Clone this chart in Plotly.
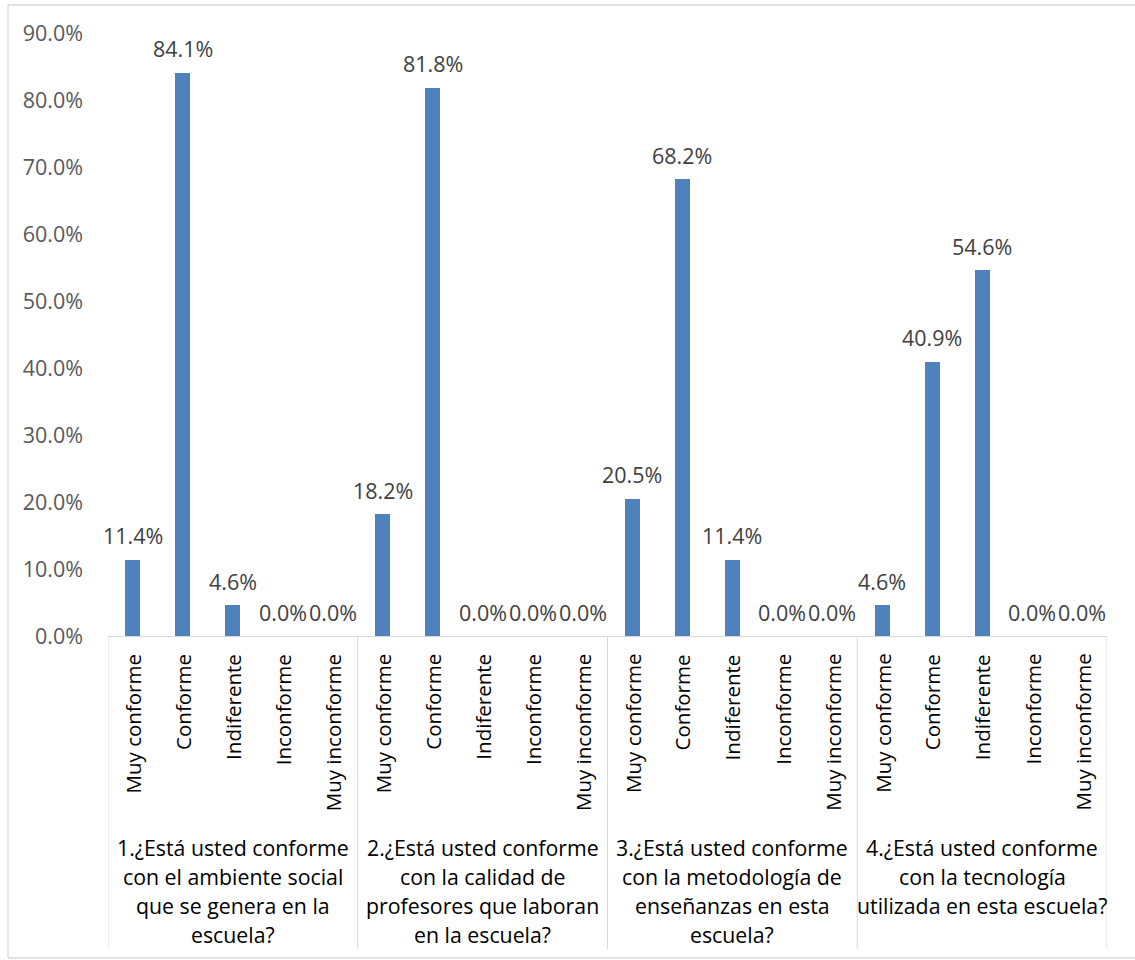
import plotly.graph_objects as go

# ---- data ----
categories = ["Muy conforme", "Conforme", "Indiferente", "Inconforme", "Muy inconforme"]
groups = [
    "1.¿Está usted conforme<br>con el ambiente social<br>que se genera en la<br>escuela?",
    "2.¿Está usted conforme<br>con la calidad de<br>profesores que laboran<br>en la escuela?",
    "3.¿Está usted conforme<br>con la metodología de<br>enseñanzas en esta<br>escuela?",
    "4.¿Está usted conforme<br>con la tecnología<br>utilizada en esta escuela?",
]
values_q1 = [0.114, 0.841, 0.046, 0.0, 0.0]
values_q2 = [0.182, 0.818, 0.0, 0.0, 0.0]
values_q3 = [0.205, 0.682, 0.114, 0.0, 0.0]
values_q4 = [0.046, 0.409, 0.546, 0.0, 0.0]
all_values = [values_q1, values_q2, values_q3, values_q4]

FONT = "Open Sans"
W, H = 1135, 960
L, R, T, B = 108, 28, 33, 324
PW, PH = W - L - R, H - T - B

def py(px):
    """pixel y (from top) -> paper y"""
    return (H - B - px) / PH

def pxx(px):
    return (px - L) / PW

ncat = len(categories)
xs, ys = [], []
for gi, vals in enumerate(all_values):
    for ci, v in enumerate(vals):
        xs.append(gi * ncat + ci)
        ys.append(v)

fig = go.Figure()
fig.add_trace(go.Bar(
    x=xs, y=ys, width=0.3,
    marker=dict(color="#4F81BD", line=dict(width=0)),
    hoverinfo="skip", showlegend=False,
))

annotations = []
# data labels
for x, v in zip(xs, ys):
    annotations.append(dict(
        x=x, y=v, xref="x", yref="y", text=f"{v*100:.1f}%",
        showarrow=False, yanchor="middle", xanchor="center", yshift=24,
        font=dict(family=FONT, size=21.5, color="#404040"),
    ))
# rotated category labels
for x in xs:
    annotations.append(dict(
        x=x, y=py(652), xref="x", yref="paper", text=categories[x % ncat],
        showarrow=False, textangle=-90, yanchor="top", xanchor="center",
        font=dict(family=FONT, size=20.5, color="#000000"),
    ))
# group labels (one annotation per line for Excel-like line spacing)
for gi, g in enumerate(groups):
    cx = gi * ncat + (ncat - 1) / 2
    for li, line in enumerate(g.split("<br>")):
        annotations.append(dict(
            x=cx, y=py(847 + 29.3 * li), xref="x", yref="paper", text=line,
            showarrow=False, yanchor="middle", xanchor="center",
            font=dict(family=FONT, size=21.3, color="#000000"),
        ))

shapes = []
# group dividers
for gi in range(len(groups) + 1):
    xd = gi * ncat - 0.5
    shapes.append(dict(type="line", xref="x", yref="paper", x0=xd, x1=xd,
                       y0=0, y1=py(949), line=dict(color="#D9D9D9", width=1)))
# outer chart border (top, left, bottom; right edge is outside the picture)
bc = dict(color="#D9D9D9", width=1.3)
shapes.append(dict(type="line", xref="paper", yref="paper",
                   x0=pxx(8), x1=pxx(1135), y0=py(5), y1=py(5), line=bc))
shapes.append(dict(type="line", xref="paper", yref="paper",
                   x0=pxx(8), x1=pxx(8), y0=py(5), y1=py(958), line=bc))
shapes.append(dict(type="line", xref="paper", yref="paper",
                   x0=pxx(8), x1=pxx(1135), y0=py(958), y1=py(958), line=bc))

fig.update_layout(
    width=W, height=H,
    margin=dict(l=L, r=R, t=T, b=B, autoexpand=False),
    paper_bgcolor="white", plot_bgcolor="white",
    font=dict(family=FONT, size=21, color="#595959"),
    bargap=0,
    xaxis=dict(range=[-0.5, len(xs) - 0.5], showticklabels=False, showgrid=False,
               zeroline=False, showline=True, linecolor="#D9D9D9", linewidth=1.3,
               ticks=""),
    yaxis=dict(range=[0, 0.9], dtick=0.1, tick0=0, tickformat=".1%", showgrid=False,
               zeroline=False, showline=False, ticks="", ticklabelstandoff=24,
               tickfont=dict(family=FONT, size=21.5, color="#595959")),
    annotations=annotations,
    shapes=shapes,
)

fig.write_html("out.html")
